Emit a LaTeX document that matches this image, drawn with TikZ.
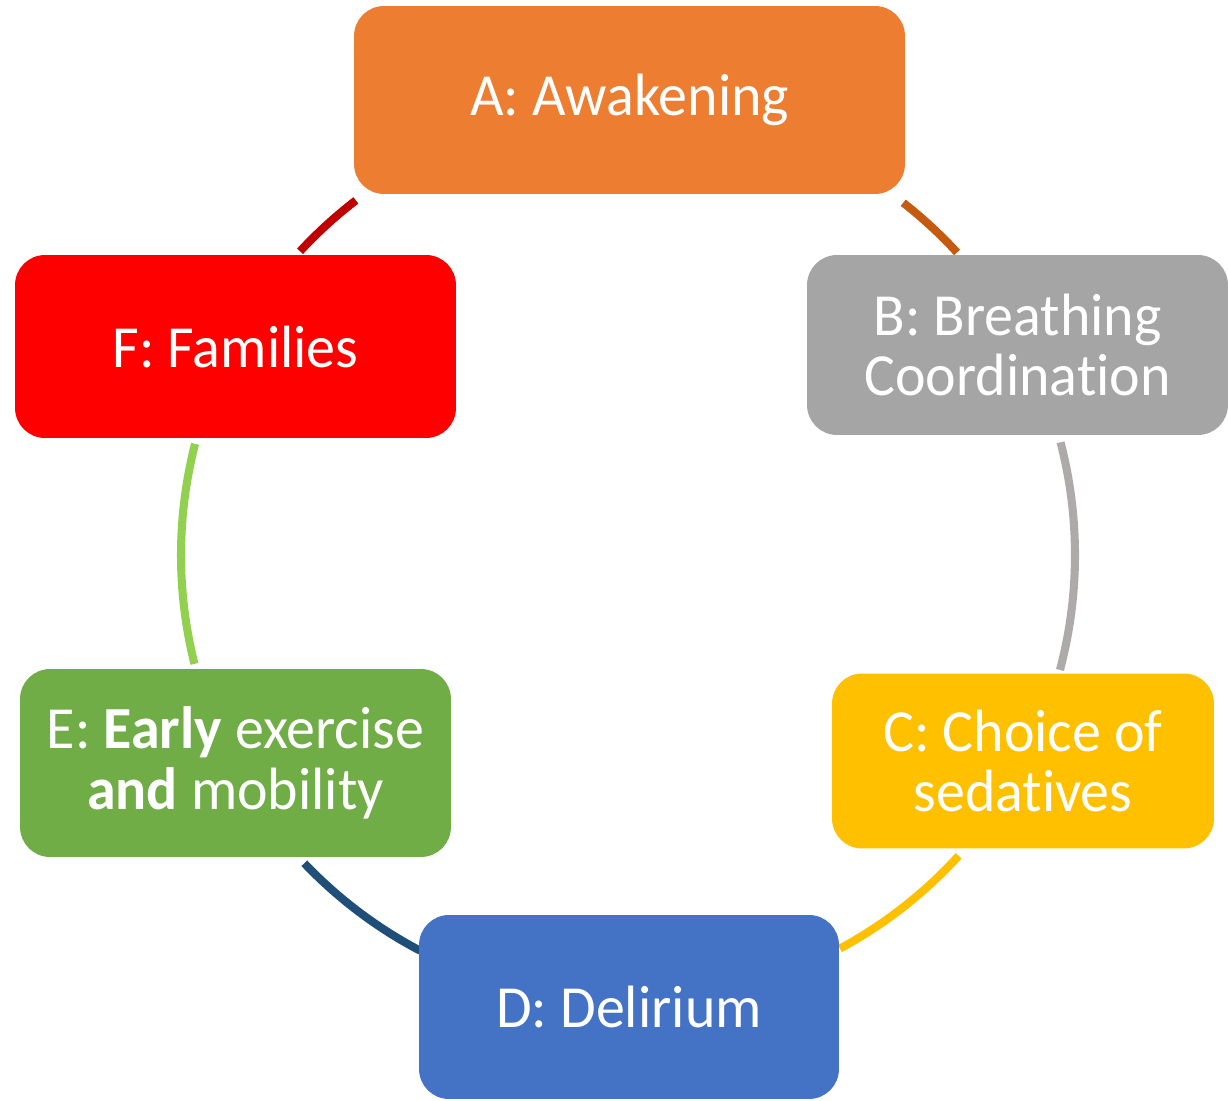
\documentclass[tikz,border=0pt]{standalone}
\usepackage{fontspec}
\setmainfont{Carlito}[FakeStretch=0.97, Ligatures=NoCommon]

\definecolor{awakefill}{HTML}{ED7D31}
\definecolor{breathfill}{HTML}{A5A5A5}
\definecolor{choicefill}{HTML}{FFC000}
\definecolor{delirfill}{HTML}{4472C4}
\definecolor{earlyfill}{HTML}{70AD47}
\definecolor{famfill}{HTML}{FF0000}
\definecolor{awakearc}{HTML}{C55A11}
\definecolor{breatharc}{HTML}{AEAAAA}
\definecolor{choicearc}{HTML}{FFC000}
\definecolor{delirarc}{HTML}{1F4E79}
\definecolor{earlyarc}{HTML}{92D050}
\definecolor{famarc}{HTML}{C00000}

\tikzset{
  stagebox/.style={rectangle, rounded corners=0.6cm, fill=#1, text=white,
    align=center, inner sep=0pt, font=\fontsize{34}{34.5}\selectfont},
  cyclearc/.style={draw=#1, line width=4.6pt},
}

\begin{document}
\begin{tikzpicture}[x=0.02cm, y=0.02cm]
    \useasboundingbox (0, 0) rectangle (1228, -1101);

    \coordinate (hub) at (628, -555);

    % the cycle, one arc after each stage
    \draw [cyclearc=famarc] ([shift={(137.2:447)}]hub) arc [start angle=137.2, end angle=127.5, radius=447];
    \draw [cyclearc=awakearc] ([shift={(52:447)}]hub) arc [start angle=52, end angle=42.6, radius=447];
    \draw [cyclearc=breatharc] ([shift={(14.6:447)}]hub) arc [start angle=14.6, end angle=-14.9, radius=447];
    \draw [cyclearc=choicearc] ([shift={(-42.3:447)}]hub) arc [start angle=-42.3, end angle=-61.7, radius=447];
    \draw [cyclearc=delirarc] ([shift={(-117.7:447)}]hub) arc [start angle=-117.7, end angle=-136.4, radius=447];
    \draw [cyclearc=earlyarc] ([shift={(194.1:447)}]hub) arc [start angle=194.1, end angle=165.6, radius=447];

    \node [stagebox=awakefill, minimum width=11.02cm, minimum height=3.76cm] (awake) at (629.5, -100) {A: Awakening};
    \node [stagebox=breathfill, minimum width=8.42cm, minimum height=3.6cm] (breath) at (1017.5, -345) {B: Breathing\\Coordination};
    \node [stagebox=choicefill, minimum width=7.64cm, minimum height=3.5cm] (choice) at (1023, -761) {C: Choice of\\sedatives};
    \node [stagebox=delirfill, minimum width=8.4cm, minimum height=3.68cm] (delir) at (629, -1007) {D: Delirium};
    \node [stagebox=earlyfill, minimum width=8.62cm, minimum height=3.76cm] (early) at (235.5, -763) {E: \textbf{Early} exercise\\\textbf{and} mobility};
    \node [stagebox=famfill, minimum width=8.82cm, minimum height=3.66cm] (fam) at (235.5, -346.5) {F: Families};

  \end{tikzpicture}
\end{document}
